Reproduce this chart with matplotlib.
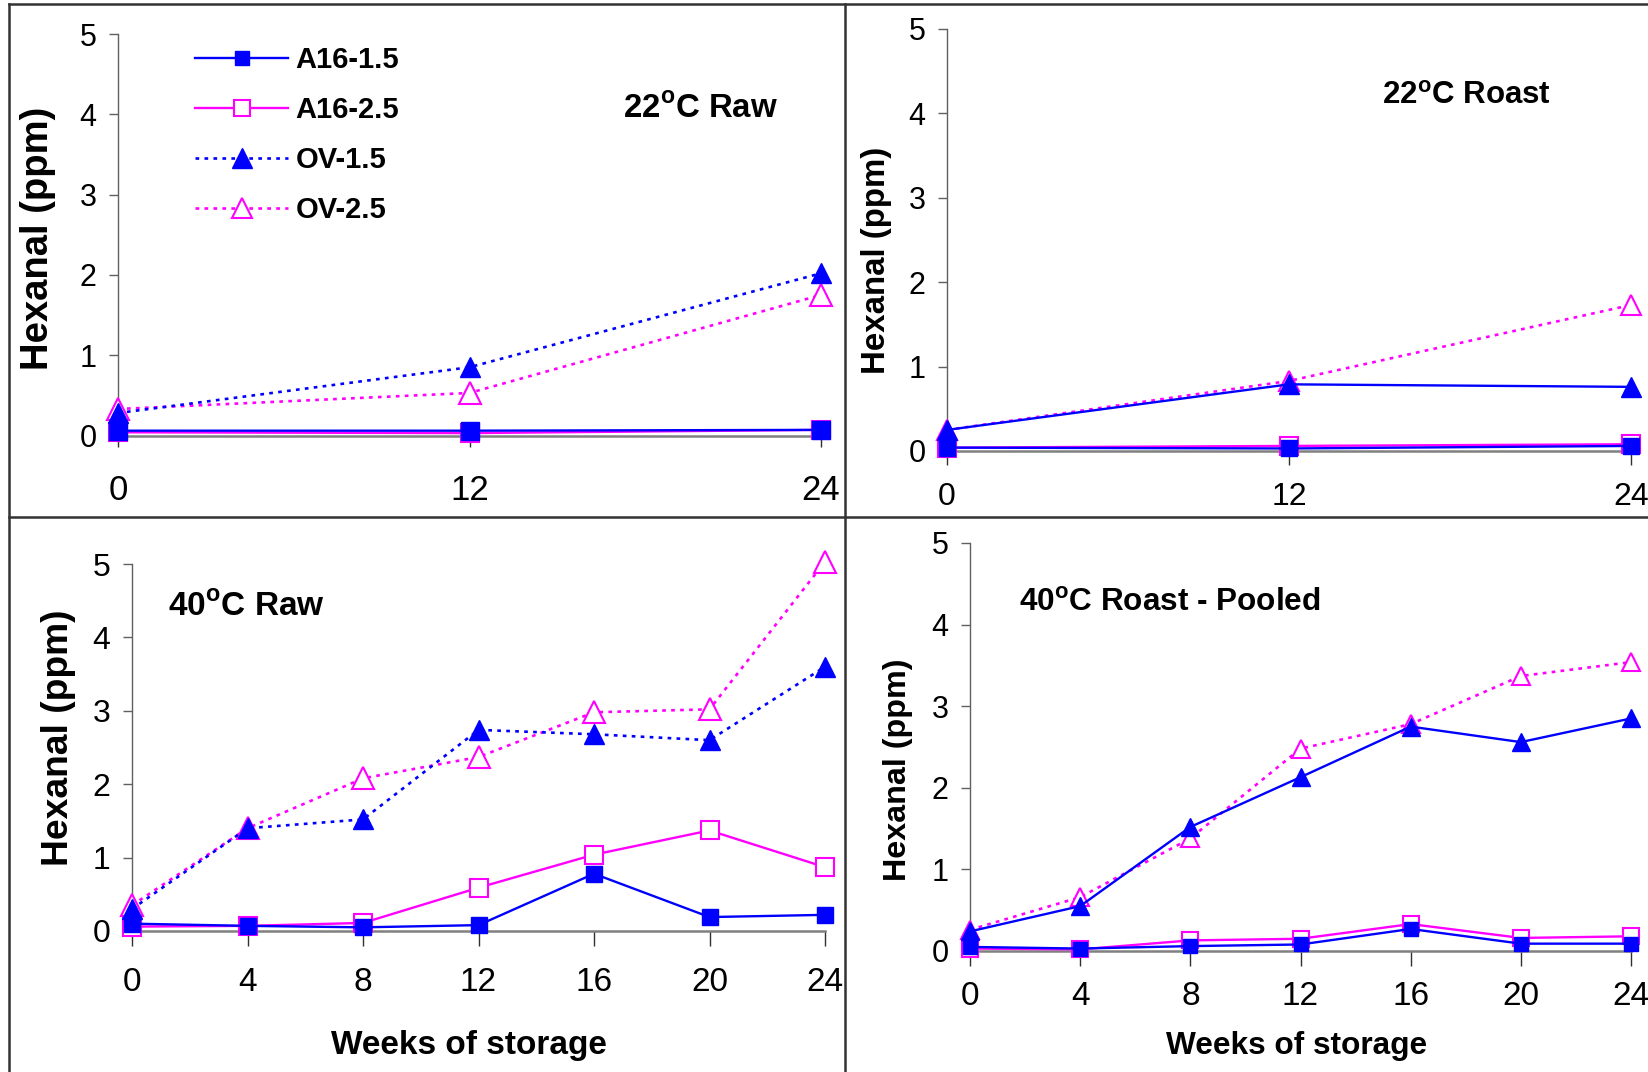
import matplotlib
matplotlib.use("Agg")
import matplotlib.pyplot as plt
from matplotlib.lines import Line2D

plt.rcParams["font.family"] = ["Liberation Sans", "DejaVu Sans"]
plt.rcParams["mathtext.fontset"] = "custom"
plt.rcParams["mathtext.rm"] = "Liberation Sans"
plt.rcParams["mathtext.bf"] = "Liberation Sans:bold"

# ============================================================ #
# Data (hexanal, ppm)
# ============================================================ #
weeks_22 = [0, 12, 24]
weeks_40 = [0, 4, 8, 12, 16, 20, 24]

series_names = ["A16-1.5", "A16-2.5", "OV-1.5", "OV-2.5"]

raw22_a16_15 = [0.06, 0.06, 0.07]
raw22_a16_25 = [0.04, 0.03, 0.07]
raw22_ov_15 = [0.28, 0.85, 2.02]
raw22_ov_25 = [0.33, 0.53, 1.75]

roast22_a16_15 = [0.04, 0.03, 0.06]
roast22_a16_25 = [0.04, 0.06, 0.08]
roast22_ov_15 = [0.25, 0.79, 0.76]
roast22_ov_25 = [0.25, 0.83, 1.73]

raw40_a16_15 = [0.10, 0.07, 0.05, 0.08, 0.78, 0.19, 0.22]
raw40_a16_25 = [0.06, 0.07, 0.11, 0.59, 1.04, 1.37, 0.87]
raw40_ov_15 = [0.30, 1.40, 1.52, 2.74, 2.68, 2.60, 3.60]
raw40_ov_25 = [0.35, 1.40, 2.08, 2.37, 2.98, 3.02, 5.03]

roast40_a16_15 = [0.05, 0.03, 0.06, 0.08, 0.27, 0.09, 0.09]
roast40_a16_25 = [0.03, 0.02, 0.13, 0.15, 0.33, 0.16, 0.18]
roast40_ov_15 = [0.24, 0.55, 1.52, 2.13, 2.75, 2.56, 2.85]
roast40_ov_25 = [0.26, 0.66, 1.38, 2.48, 2.78, 3.37, 3.54]

BLUE = "#0000FF"
MAGENTA = "#FF00FF"
DOTTED = (0, (1.4, 2.0))
W, H = 1648, 1072


def px_rect(left, top, right, bottom):
    """pixel box -> figure fraction rect"""
    return [left / W, 1 - bottom / H, (right - left) / W, (bottom - top) / H]


def draw_panel(ax, weeks, values, ov15_style, sq_size, tri_size,
               xt_size, yt_size, xpad, tick_len):
    a15, a25, o15, o25 = values
    common = dict(clip_on=False)
    # open (magenta) series sit underneath the filled blue ones
    ax.plot(weeks, a25, color=MAGENTA, ls="-", lw=1.7, marker="s", ms=sq_size + 1,
            mfc="white", mec=MAGENTA, mew=1.5, zorder=3, **common)
    ax.plot(weeks, o25, color=MAGENTA, ls=DOTTED, lw=1.9, marker="^", ms=tri_size + 1,
            mfc="white", mec=MAGENTA, mew=1.5, zorder=4, **common)
    ax.plot(weeks, a15, color=BLUE, ls="-", lw=1.7, marker="s", ms=sq_size,
            mfc=BLUE, mec=BLUE, zorder=5, **common)
    o15_lw = 1.9 if ov15_style == DOTTED else 1.7
    ax.plot(weeks, o15, color=BLUE, ls=ov15_style, lw=o15_lw, marker="^", ms=tri_size,
            mfc=BLUE, mec=BLUE, zorder=6, **common)

    ax.set_xlim(0, 24)
    ax.set_ylim(0, 5)
    ax.set_xticks(weeks)
    ax.set_yticks(range(6))
    for side in ["top", "right"]:
        ax.spines[side].set_visible(False)
    ax.spines["left"].set_color("#606060")
    ax.spines["left"].set_linewidth(1.0)
    ax.spines["bottom"].set_color("#808080")
    ax.spines["bottom"].set_linewidth(1.8)
    ax.tick_params(axis="x", direction="out", length=tick_len, width=1.0,
                   color="#303030", labelsize=xt_size, pad=xpad)
    ax.tick_params(axis="y", direction="out", length=6.5, width=1.0,
                   color="#606060", labelsize=yt_size, pad=9)
    ax.patch.set_alpha(0)


fig = plt.figure(figsize=(W / 100, H / 100), dpi=100)

ax1 = fig.add_axes(px_rect(118, 34, 821, 435.5))
ax2 = fig.add_axes(px_rect(947, 29, 1631, 451))
ax3 = fig.add_axes(px_rect(132, 564, 825, 931))
ax4 = fig.add_axes(px_rect(970, 543, 1631, 951))

draw_panel(ax1, weeks_22, [raw22_a16_15, raw22_a16_25, raw22_ov_15, raw22_ov_25],
           DOTTED, 12.5, 15, 25, 22, 20, 8)
draw_panel(ax2, weeks_22, [roast22_a16_15, roast22_a16_25, roast22_ov_15, roast22_ov_25],
           "-", 11.5, 14, 23, 22, 12, 10)
draw_panel(ax3, weeks_40, [raw40_a16_15, raw40_a16_25, raw40_ov_15, raw40_ov_25],
           DOTTED, 11.5, 14.5, 24, 23, 15, 11)
draw_panel(ax4, weeks_40, [roast40_a16_15, roast40_a16_25, roast40_ov_15, roast40_ov_25],
           "-", 10.5, 12.5, 24, 22, 10.5, 11)

# y labels
for (x, y, size) in [(38, 238, 27.5), (877, 260, 23.8), (58, 738, 26.8), (898, 770, 23.2)]:
    fig.text(x / W, 1 - y / H, "Hexanal (ppm)", rotation=90, ha="center",
             va="center", fontsize=size, fontweight="bold")

# panel titles
titles = [
    (623, 118, r"22$^{\mathbf{o}}$C Raw", 23.8),
    (1382, 104, r"22$^{\mathbf{o}}$C Roast", 22.5),
    (168, 616, r"40$^{\mathbf{o}}$C Raw", 24),
    (1019, 611, r"40$^{\mathbf{o}}$C Roast - Pooled", 22.7),
]
for x, y, txt, size in titles:
    fig.text(x / W, 1 - y / H, txt, ha="left", va="baseline",
             fontsize=size, fontweight="bold")

# x labels
for x, size in [(469, 24), (1297, 22.8)]:
    fig.text(x / W, 1 - 1054 / H, "Weeks of storage", ha="center",
             va="baseline", fontsize=size, fontweight="bold")

# legend in the first panel
handles = [
    Line2D([], [], color=BLUE, ls="-", lw=1.7, marker="s", ms=10, mfc=BLUE, mec=BLUE),
    Line2D([], [], color=MAGENTA, ls="-", lw=1.7, marker="s", ms=11, mfc="white",
           mec=MAGENTA, mew=1.5),
    Line2D([], [], color=BLUE, ls=DOTTED, lw=1.9, marker="^", ms=14, mfc=BLUE, mec=BLUE),
    Line2D([], [], color=MAGENTA, ls=DOTTED, lw=1.9, marker="^", ms=14, mfc="white",
           mec=MAGENTA, mew=1.5),
]
leg = ax1.legend(handles, series_names, loc="upper left",
                 bbox_to_anchor=(195 / W, 1 - 46 / H), bbox_transform=fig.transFigure,
                 frameon=False, borderpad=0, borderaxespad=0, handlelength=3.2,
                 handletextpad=0.25, labelspacing=0.76,
                 prop={"weight": "bold", "size": 21})

# panel frame lines
frame = dict(color="#333333", lw=1.8, transform=fig.transFigure)
fig.add_artist(Line2D([9 / W, 1], [1 - 4 / H, 1 - 4 / H], **frame))
fig.add_artist(Line2D([9 / W, 9 / W], [0, 1 - 4 / H], **frame))
fig.add_artist(Line2D([845 / W, 845 / W], [0, 1 - 4 / H], **frame))
fig.add_artist(Line2D([9 / W, 1], [1 - 517 / H, 1 - 517 / H], **frame))

fig.savefig("out.png", dpi=100)
